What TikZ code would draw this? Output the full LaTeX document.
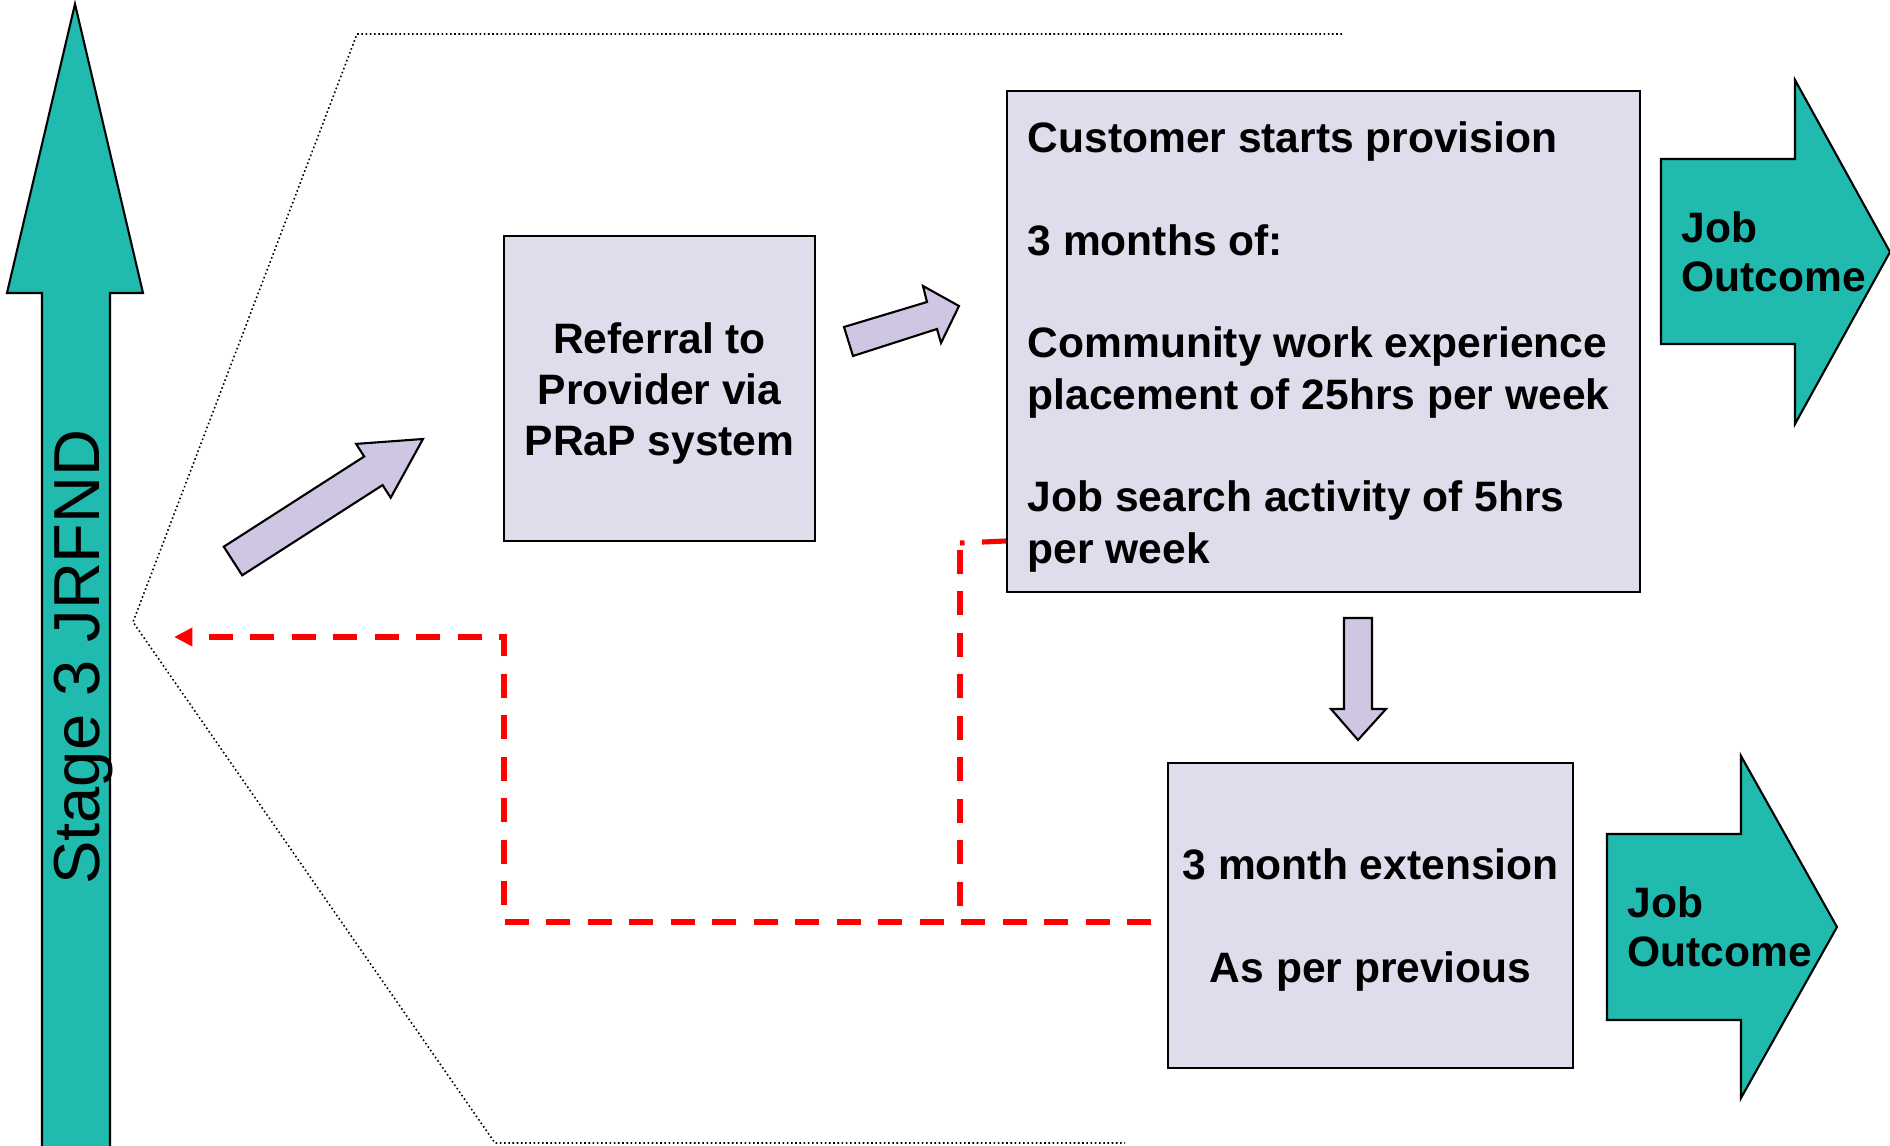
\documentclass[tikz,border=0pt]{standalone}
\usepackage{fontspec}
\setmainfont{Liberation Sans}
\usetikzlibrary{arrows.meta}
\definecolor{teal1}{HTML}{20BAAE}
\definecolor{boxfill}{HTML}{E0DCEC}
\definecolor{arrfill}{HTML}{CFC6E3}
\begin{document}
\begin{tikzpicture}[x=0.01cm,y=-0.01cm,
  box/.style={draw=black, line width=0.6pt, fill=boxfill, inner sep=0pt, anchor=north west},
  bigfont/.style={font=\fontsize{12.1}{14.6}\selectfont\bfseries},
  blockarrow/.style={draw=black, line width=0.6pt, fill=arrfill, line join=miter},
  tealarrow/.style={draw=black, line width=0.6pt, fill=teal1, line join=miter},
  guide/.style={draw=black, line width=0.45pt, dash pattern=on 0.45pt off 0.75pt},
  reddash/.style={draw=red, line width=1.45pt, dash pattern=on 6.8pt off 5pt},
]
\useasboundingbox (0,0) rectangle (1890,1146);

% dotted guide
\draw[guide] (1342,34) -- (357,34) -- (133,622) -- (495,1143) -- (1125,1143);

% big stage arrow
\draw[tealarrow] (42,1170) -- (42,293) -- (7,293) -- (75,4) -- (143,293) -- (110,293) -- (110,1170);
\node[rotate=90, anchor=base, inner sep=0pt, font=\fontsize{18.5}{22}\selectfont] (stage) at (99,657) {Stage 3 JRFND};

% boxes
\node[box, minimum width=3.11cm, minimum height=3.05cm] (ref) at (503,235) {};
\node[bigfont, align=center, inner sep=0pt, yshift=-1.4pt] (reftext) at (ref.center) {Referral to\\Provider via\\PRaP system};
\node[box, minimum width=6.33cm, minimum height=5.01cm] (cust) at (1006,90) {};
\node[bigfont, align=left, anchor=north west, inner sep=0pt] (custtext) at (1027,121)
  {Customer starts provision\\[14.6pt]3 months of:\\[14.6pt]Community work experience\\placement of 25hrs per week\\[14.6pt]Job search activity of 5hrs\\per week};
\node[box, minimum width=4.05cm, minimum height=3.05cm] (ext) at (1167,762) {};
\node[bigfont, align=center, inner sep=0pt, yshift=-1.2pt] (exttext) at (ext.center) {3 month extension\\[14.6pt]As per previous};

% lavender block arrows
\draw[blockarrow] (242.2,575.3) -- (382.6,485.1) -- (390.7,497.7) -- (423,439) -- (356.1,443.9) -- (364.2,456.5) -- (223.8,546.7) -- cycle;
\draw[blockarrow] (844,327) -- (927,302) -- (923,286) -- (959,306) -- (941,343) -- (937,329) -- (853,356) -- cycle;
\draw[blockarrow] (1344,618) -- (1372,618) -- (1372,709) -- (1386,709) -- (1358,740) -- (1331,709) -- (1344,709) -- cycle;

% job outcome arrows
\draw[tealarrow] (1661,159) -- (1795,159) -- (1795,80) -- (1890,252) -- (1795,424) -- (1795,344) -- (1661,344) -- cycle;
\node[anchor=north west, inner sep=0pt, align=left, font=\fontsize{12.1}{14}\selectfont\bfseries] (job1) at (1681,211) {Job\\Outcome};
\draw[tealarrow] (1607,834) -- (1741,834) -- (1741,756) -- (1837,927) -- (1741,1098) -- (1741,1020) -- (1607,1020) -- cycle;
\node[anchor=north west, inner sep=0pt, align=left, font=\fontsize{12.1}{14}\selectfont\bfseries] (job2) at (1627,886) {Job\\Outcome};

% red dashed return path
\coordinate (r1) at (1151,922);
\coordinate (r2) at (504,922);
\coordinate (r3) at (504,637);
\coordinate (ret) at (174,637);
\draw[reddash, -{Triangle[length=5.2pt,width=5pt]}] (r1) -- (r2) -- (r3) -- (ret);
\coordinate (c1) at (cust.west |- 0,541);
\coordinate (c2) at (960,543);
\coordinate (c3) at (960,922);
\draw[reddash] (c1) -- (c2);
\draw[reddash] (960,550) -- (c3);
\end{tikzpicture}
\end{document}
